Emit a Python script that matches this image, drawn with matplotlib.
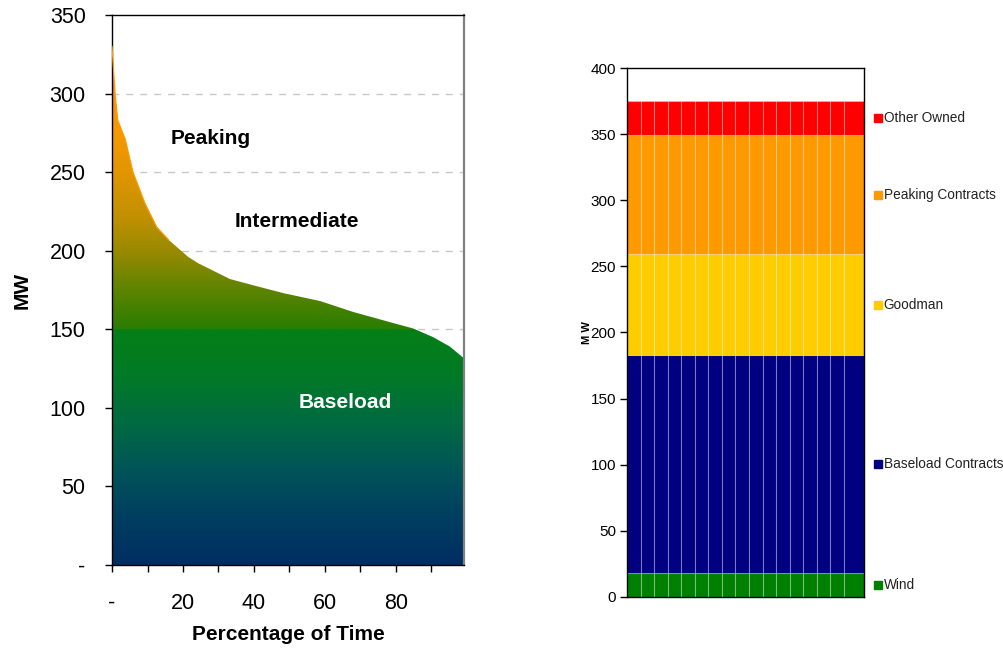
import numpy as np
import matplotlib
matplotlib.use("Agg")
import matplotlib.pyplot as plt
from matplotlib import font_manager
from matplotlib.font_manager import FontProperties
from matplotlib.colors import LinearSegmentedColormap
from matplotlib.patches import PathPatch
from matplotlib.path import Path
from matplotlib.transforms import blended_transform_factory

# ---- load duration curve -------------------------------------------------
pct_time = [0, 0.85, 1.6, 3.7, 5.9, 9.3, 12.6, 15.9, 21.5, 24.3, 33.2, 39.8,
            48.3, 58.6, 68.0, 79.2, 84.9, 90.5, 95.2, 99.2]
load_mw = [330, 300, 283, 271, 250, 230, 215, 207, 196, 192, 182, 178,
           173, 168, 161, 154, 150.5, 145, 139, 131.5]

region_names = ["Peaking", "Intermediate", "Baseload"]
region_pos = [(27.9, 271.7), (52.1, 218.9), (65.6, 103.7)]
baseload_level = 150

# ---- resource stack -------------------------------------------------------
resources = ["Wind", "Baseload Contracts", "Goodman", "Peaking Contracts", "Other Owned"]
resource_mw = [18, 165, 76, 90, 26]
resource_colors = ["#008000", "#000080", "#FFCC00", "#FF9900", "#FF0000"]
n_columns = 17

names = {f.name for f in font_manager.fontManager.ttflist}
sans = "Liberation Sans" if "Liberation Sans" in names else "DejaVu Sans"


def find_narrow(bold=False):
    for fam in ["Liberation Sans Narrow", "Arial Narrow"]:
        for f in font_manager.fontManager.ttflist:
            is_bold = f.weight in ("bold", 700) or (isinstance(f.weight, int) and f.weight >= 600)
            if f.name == fam and f.style == "normal" and is_bold == bold:
                return f.fname
    return None


narrow_file = find_narrow(False)
narrow_bold_file = find_narrow(True)

fig = plt.figure(figsize=(10.04, 6.52), dpi=100)

# ======================= left: load duration curve ========================
ax = fig.add_axes([0.1116, 0.1334, 0.3506, 0.8436])
xmax = pct_time[-1]
ax.set_xlim(0, xmax)
ax.set_ylim(0, 350)

# vertical colour ramp: orange at the peak, green at baseload, navy at zero
upper = LinearSegmentedColormap.from_list(
    "upper", [(0.0, "#2A7E00"), (0.056, "#3F8000"), (0.167, "#6A8500"),
              (0.278, "#9A8A00"), (0.39, "#C09000"), (0.556, "#E29600"),
              (0.70, "#F59A00"), (0.833, "#FF9000"), (1.0, "#FF5A00")])
lower = LinearSegmentedColormap.from_list(
    "lower", [(0.0, "#002E62"), (0.2, "#003E60"), (0.4, "#005458"),
              (0.6, "#006A42"), (0.8, "#007A26"), (1.0, "#058017")])
ys = np.linspace(0, 350, 701)
rgb = np.zeros((len(ys), 2, 4))
top = max(load_mw)
for i, y in enumerate(ys):
    if y < baseload_level:
        c = lower(y / baseload_level)
    else:
        c = upper(min((y - baseload_level) / (top - baseload_level), 1.0))
    rgb[i, :, :] = c

verts = [(0, 0)] + list(zip(pct_time, load_mw)) + [(xmax, 0), (0, 0)]
clip = PathPatch(Path(verts), transform=ax.transData, facecolor="none", edgecolor="none")
ax.add_patch(clip)
im = ax.imshow(rgb, extent=[0, xmax, 0, 350], origin="lower", aspect="auto",
               interpolation="bilinear", zorder=2)
im.set_clip_path(clip)

# thin orange rim along the steep part of the curve
ax.plot(pct_time[:8], load_mw[:8], color="#FF9A00", lw=0.9, zorder=3)

ax.set_yticks(np.arange(0, 351, 50))
ax.set_yticklabels(["-"] + [str(v) for v in range(50, 351, 50)])
ax.set_xticks([0, 20, 40, 60, 80])
ax.set_xticklabels(["-", "20", "40", "60", "80"])
ax.set_xticks(np.arange(10, 100, 20), minor=True)
ax.tick_params(axis="both", which="both", direction="out", length=5, width=1,
               labelsize=15.5, colors="black")
ax.tick_params(axis="x", which="major", pad=15)
ax.tick_params(axis="y", pad=14)
for lab in ax.get_xticklabels() + ax.get_yticklabels():
    lab.set_fontfamily(sans)

for y in range(150, 301, 50):
    ax.axhline(y, color="#C8C8C8", lw=1, ls=(0, (5, 5)), zorder=1)

for s in ["left", "bottom", "top"]:
    ax.spines[s].set_color("black")
    ax.spines[s].set_linewidth(1)
ax.spines["right"].set_color("#808080")
ax.spines["right"].set_linewidth(1.6)

for name, (px, py) in zip(region_names, region_pos):
    ax.text(px, py, name, ha="center", va="center", fontsize=15,
            fontweight="bold", family=sans,
            color="white" if name == "Baseload" else "black", zorder=5)

ax.set_ylabel("MW", fontsize=15, fontweight="bold", family=sans, labelpad=13)
ax.set_xlabel("Percentage of Time", fontsize=15, fontweight="bold", family=sans,
              labelpad=8)

# ======================= right: resource stack ============================
bx = fig.add_axes([0.6245, 0.0844, 0.2361, 0.8113])
cols = np.arange(n_columns)
widths = [1.0] * (n_columns - 1) + [1.49]
bottom = np.zeros(n_columns)
for name, mw, col in zip(resources, resource_mw, resource_colors):
    vals = np.full(n_columns, mw, dtype=float)
    bx.bar(cols, vals, width=widths, bottom=bottom, align="edge", color=col,
           edgecolor=(1, 1, 1, 0.25), linewidth=0.8)
    bottom += vals
bx.set_xlim(0, n_columns + 0.49)
bx.set_ylim(0, 400)
bx.set_xticks([])
bx.set_yticks(np.arange(0, 401, 50))

if narrow_file:
    tick_fp = FontProperties(fname=narrow_file, size=12.5)
    leg_size = 12.5
else:
    tick_fp = FontProperties(family=sans, size=11)
    leg_size = 9.8
if narrow_bold_file:
    ylab_fp = FontProperties(fname=narrow_bold_file, size=9)
else:
    ylab_fp = FontProperties(family=sans, weight="bold", size=8)

bx.tick_params(axis="y", direction="out", length=5, width=1, pad=3)
for lab in bx.get_yticklabels():
    lab.set_fontproperties(tick_fp)
for s in bx.spines.values():
    s.set_color("black")
    s.set_linewidth(1)
bx.set_ylabel("M W", fontproperties=ylab_fp, labelpad=-1)

trans = blended_transform_factory(bx.transAxes, bx.transData)
cum = 0
for name, mw, col in zip(resources, resource_mw, resource_colors):
    mid = cum + mw / 2
    cum += mw
    bx.plot([1.06], [mid], marker="s", markersize=6, color=col, transform=trans,
            clip_on=False, linestyle="none")
    fp = FontProperties(fname=narrow_file, size=leg_size) if narrow_file else \
        FontProperties(family=sans, size=leg_size)
    bx.text(1.083, mid, name, transform=trans, ha="left", va="center",
            fontproperties=fp, color="#222222")

fig.savefig("out.png", dpi=100)
